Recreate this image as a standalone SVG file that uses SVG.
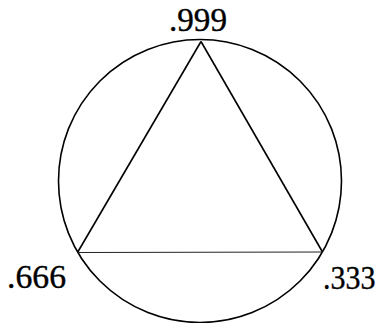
<svg xmlns="http://www.w3.org/2000/svg" width="380" height="323" viewBox="0 0 380 323">
<style>
.s{fill:none;stroke:#000;stroke-width:1.6}
.t{font-family:"Liberation Serif","Times New Roman",serif;font-size:34px;fill:#000;stroke:#000;stroke-width:0.4}
</style>
<rect width="380" height="323" fill="#fff"/>
<g id="circle"><circle class="s" cx="200" cy="181" r="141.5"/></g>
<g id="connectors">
<line class="s" x1="201" y1="41.5" x2="77.5" y2="252.5"/>
<line class="s" x1="201" y1="41.5" x2="322.5" y2="252"/>
<line class="s" x1="77.5" y1="252.5" x2="322.5" y2="252" style="stroke-width:1;stroke:#222"/>
</g>
<g id="n999"><text class="t" x="169" y="31" textLength="58" lengthAdjust="spacingAndGlyphs">.999</text></g>
<g id="n666"><text class="t" x="7" y="288" textLength="59" lengthAdjust="spacingAndGlyphs">.666</text></g>
<g id="n333"><text class="t" transform="translate(323,288.5) scale(0.88,1)" x="0" y="0">.333</text></g>
</svg>
